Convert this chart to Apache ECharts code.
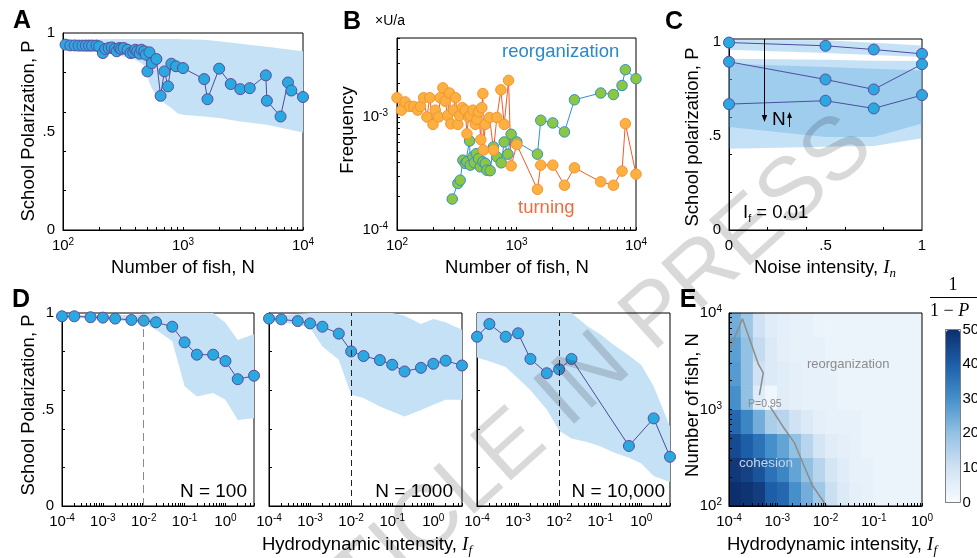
<!DOCTYPE html>
<html><head><meta charset="utf-8">
<script src="https://cdn.jsdelivr.net/npm/echarts@6/dist/echarts.min.js"></script>
<style>html,body{margin:0;padding:0;background:#fff}#c{width:977px;height:558px}</style>
</head><body><div id="c"></div>
<script>
// ---------------- DATA ----------------
// Panel A
const A_N = [105,115,125,135,145,155,165,175,190,200,215,225,240,255,270,280,295,305,320,345,365,385,400,415,435,450,475,490,505,525,550,600,650,700,750,800,875,1000,1500,1600,2000,2500,3000,3600,4900,5000,6500,7500,8000,10000];
const A_P = [0.941,0.937,0.937,0.936,0.936,0.936,0.936,0.936,0.936,0.932,0.898,0.919,0.924,0.927,0.919,0.907,0.924,0.919,0.924,0.915,0.898,0.902,0.915,0.907,0.895,0.915,0.907,0.890,0.805,0.902,0.847,0.868,0.681,0.805,0.729,0.844,0.831,0.822,0.766,0.664,0.819,0.741,0.715,0.720,0.785,0.656,0.576,0.749,0.708,0.675];
const A_bandN  = [100,200,300,400,450,480,500,520,550,600,700,800,900,1000,1500,2000,3000,5000,10000];
const A_bandHi = [0.963,0.968,0.970,0.970,0.970,0.970,0.970,0.970,0.970,0.970,0.970,0.969,0.969,0.968,0.966,0.958,0.945,0.930,0.907];
const A_bandLo = [0.915,0.902,0.885,0.864,0.847,0.831,0.805,0.754,0.720,0.686,0.644,0.619,0.593,0.585,0.576,0.568,0.551,0.534,0.495];

// Panel B
const B_turnN = [100,109,117,128,138,149,157,167,178,188,200,209,223,230,242,253,265,275,282,298,309,323,334,352,372,385,397,410,432,452,467,481,503,513,523,529,547,595,642,685,740,789,858,902,1006,1497,1596,2012,2519,3054,5070,6470,7640,8147,10000];
const B_turnF = [1.48e-3,1.15e-3,1.36e-3,1.24e-3,1.24e-3,1.15e-3,1.24e-3,1.48e-3,1.00e-3,1.48e-3,0.86e-3,1.15e-3,1.00e-3,1.48e-3,1.81e-3,1.38e-3,1.03e-3,1.63e-3,0.87e-3,1.15e-3,1.48e-3,0.86e-3,1.03e-3,1.21e-3,1.15e-3,0.71e-3,1.00e-3,1.03e-3,1.15e-3,0.86e-3,0.95e-3,1.11e-3,0.63e-3,1.21e-3,1.61e-3,0.51e-3,0.86e-3,0.99e-3,0.51e-3,0.99e-3,1.74e-3,0.86e-3,2.11e-3,0.37e-3,0.57e-3,0.229e-3,0.375e-3,0.375e-3,0.249e-3,0.355e-3,0.267e-3,0.249e-3,0.332e-3,0.873e-3,0.312e-3];
const B_reorgN = [290,323,338,356,373,385,405,410,432,443,460,481,497,523,548,565,602,642,685,745,789,847,902,1006,1497,1596,2012,2519,3054,5070,6470,7640,8147,10000];
const B_reorgF = [0.188e-3,0.258e-3,0.276e-3,0.415e-3,0.388e-3,0.401e-3,0.614e-3,0.375e-3,0.444e-3,0.393e-3,0.474e-3,0.428e-3,0.362e-3,0.401e-3,0.388e-3,0.338e-3,0.335e-3,0.543e-3,0.444e-3,0.393e-3,0.601e-3,0.469e-3,0.703e-3,0.601e-3,0.469e-3,0.935e-3,0.886e-3,0.738e-3,1.42e-3,1.63e-3,1.58e-3,1.90e-3,2.62e-3,2.18e-3];

// Panel C
const C_In = [0, 0.5, 0.75, 1];
const C_P1 = [0.996, 0.979, 0.959, 0.936];
const C_P2 = [0.894, 0.800, 0.747, 0.881];
const C_P3 = [0.669, 0.687, 0.646, 0.717];
const C_b1Hi = [1.010, 1.008, 0.995, 0.981];
const C_b1Lo = [0.958, 0.940, 0.930, 0.919];
const C_b2Hi = [0.910, 0.905, 0.900, 0.898];
const C_b2Lo = [0.547, 0.494, 0.494, 0.566];
const C_b3Hi = [0.884, 0.866, 0.857, 0.848];
const C_b3Lo = [0.432, 0.443, 0.446, 0.487];

// Panel D
const D_If  = [1e-4,2e-4,5e-4,1e-3,2e-3,5e-3,1e-2,2e-2,5e-2,0.1,0.2,0.5,1,2,5];
const D1_P  = [0.983,0.983,0.978,0.976,0.971,0.964,0.960,0.952,0.929,0.848,0.784,0.784,0.751,0.657,0.675];
const D1_hi = [0.990,0.990,0.990,0.990,0.990,0.990,0.995,1.0,1.0,1.0,1.0,1.0,0.950,0.860,0.890];
const D1_lo = [0.975,0.975,0.970,0.965,0.960,0.955,0.945,0.913,0.853,0.620,0.567,0.585,0.550,0.446,0.455];
const D2_P  = [0.971,0.967,0.958,0.946,0.929,0.893,0.801,0.777,0.756,0.732,0.697,0.716,0.737,0.753,0.728];
const D2_hi = [0.988,0.988,0.995,1.0,1.0,1.0,1.0,1.0,1.0,1.0,0.986,0.943,0.969,0.952,0.913];
const D2_lo = [0.957,0.952,0.940,0.922,0.827,0.758,0.576,0.559,0.516,0.490,0.464,0.498,0.524,0.550,0.550];
const D3_If = [1e-4,2e-4,5e-4,1e-3,2e-3,5e-3,1e-2,2e-2,0.5,2,5];
const D3_P  = [0.877,0.943,0.877,0.895,0.762,0.688,0.708,0.762,0.311,0.454,0.255];
const D3_hi = [1,1,1,1,1,1,1,1,0.93,0.89,0.84,0.78,0.73,0.62,0.41];
const D3_lo = [0.77,0.75,0.72,0.66,0.60,0.50,0.39,0.35,0.33,0.31,0.28,0.25,0.22,0.155,0.125];

// Panel E  (cells: 16 columns over log10(If) -4..0, 8 rows over log10(N) 2..4, rows listed bottom→top)
const E_colLogIf = [-3.875,-3.625,-3.375,-3.125,-2.875,-2.625,-2.375,-2.125,-1.875,-1.625,-1.375,-1.125,-0.875,-0.625,-0.375,-0.125];
const E_rowLogN  = [2.125,2.375,2.625,2.875,3.125,3.375,3.625,3.875];
const E_values = [
  [50,49,47,40,38,30,24,18,11,7,5,4,3,3,3,3],
  [48,46,42,36,32,26,20,14,9,6,4,4,3,3,3,3],
  [44,40,36,30,26,20,14,9,6,5,4,3,3,3,3,3],
  [38,32,24,16,14,10,7,5,4,4,4,3,3,3,3,3],
  [30,20,6,2,6,5,4,4,4,3,3,3,3,3,3,3],
  [28,20,10,7,6,5,4,4,4,3,3,3,3,3,3,3],
  [27,20,12,7,5,4,4,4,3,3,3,3,3,3,3,3],
  [24,18,10,6,5,4,4,3,3,3,3,3,3,3,3,3]
];
const E_c1If = [1.05e-4, 1.9e-4, 4.07e-4, 5.13e-4, 4.27e-4];
const E_c1N  = [4270, 8700, 2950, 2400, 1413];
const E_c2If = [7.1e-4, 1.41e-3, 2.24e-3, 5.25e-3, 1.05e-2];
const E_c2N  = [1070, 631, 457, 166, 100];
const CB_ticks = [0,10,20,30,40,50];

// tick labels
const P_tickVals = [0, 0.5, 1];
const P_tickText = ['0', '.5', '1'];
const P_minorTicks = [0.2, 0.4, 0.6, 0.8];
const In_tickVals = [0, 0.5, 1];
const In_tickText = ['0', '.5', '1'];
const N_tickVals = [100, 1000, 10000];
const F_tickVals = [1e-4, 1e-3];
const If_tickVals = [1e-4, 1e-3, 1e-2, 1e-1, 1];

// ---------------- STYLE ----------------
const FONT = "'Liberation Sans', Arial, Helvetica, sans-serif";
const SERIF = "'Liberation Serif', 'DejaVu Serif', serif";
const FILL = '#29a9e0', EDGE = '#5d4b9e', LINEC = '#4d4d9f', BAND = '#c5e1f5';
const CBAND = 'rgba(80,165,225,0.33)';

const SUP_RICH = {
  b: {fontSize: 15, lineHeight: 17, fontFamily: FONT, color: '#000'},
  s: {fontSize: 10, lineHeight: 10, fontFamily: FONT, color: '#000', verticalAlign: 'top'}
};
function pow10Label(v) {
  const l = Math.log10(v), e = Math.round(l);
  if (Math.abs(l - e) > 1e-6) return '';
  return '{b|10}{s|' + e + '}';
}
function logTicks(min, max) {
  const out = [];
  for (let e = Math.floor(Math.log10(min)); e <= Math.ceil(Math.log10(max)); e++) {
    for (let m = 1; m <= 9; m++) {
      const v = m * Math.pow(10, e);
      if (v >= min * 0.999 && v <= max * 1.001) out.push(v);
    }
  }
  return out;
}
function labelFor(v, vals, texts) {
  for (let i = 0; i < vals.length; i++) if (Math.abs(v - vals[i]) < 1e-9) return texts[i];
  return '';
}
function grid(l, t, w, h, extra) {
  return Object.assign({left: l, top: t, width: w, height: h, show: true, borderColor: '#000', borderWidth: 1,
    backgroundColor: 'transparent', containLabel: false, outerBoundsMode: 'none'}, extra || {});
}
function baseAxis(gi, extra) {
  return Object.assign({gridIndex: gi, splitLine: {show: false}, minorTick: {show: false},
    axisLine: {show: true, onZero: false, lineStyle: {color: '#000', width: 1}}}, extra);
}
function logAxis(gi, min, max, labelVals, showLabels, extra) {
  return baseAxis(gi, Object.assign({type: 'log', logBase: 10, min: min, max: max,
    axisTick: {show: true, inside: true, length: 3, customValues: logTicks(min, max), lineStyle: {color: '#000'}},
    axisLabel: {show: showLabels, customValues: labelVals, formatter: pow10Label, rich: SUP_RICH, margin: 7}}, extra || {}));
}
function linAxis(gi, min, max, labelVals, labelText, tickVals, showLabels, extra) {
  return baseAxis(gi, Object.assign({type: 'value', min: min, max: max,
    axisTick: {show: true, inside: true, length: 3, customValues: tickVals, lineStyle: {color: '#000'}},
    axisLabel: {show: showLabels, customValues: labelVals, formatter: function (v) { return labelFor(v, labelVals, labelText); },
      fontSize: 15, color: '#000', fontFamily: FONT, margin: 8}}, extra || {}));
}
function bandSeries(xi, xs, hi, lo, color) {
  return {type: 'custom', xAxisIndex: xi, yAxisIndex: xi, silent: true, clip: true, z: 1,
    data: xs.map(function (x, i) { return [x, hi[i], lo[i]]; }),
    encode: {x: 0, y: 1},
    renderItem: function (params, api) {
      if (params.dataIndex !== 0) return null;
      const pts = [];
      for (let i = 0; i < xs.length; i++) pts.push(api.coord([xs[i], hi[i]]));
      for (let i = xs.length - 1; i >= 0; i--) pts.push(api.coord([xs[i], lo[i]]));
      return {type: 'polygon', shape: {points: pts}, style: {fill: color}};
    }};
}
function dotLine(xi, xs, ys, fill, edge, lineColor, size, extra) {
  return Object.assign({type: 'line', xAxisIndex: xi, yAxisIndex: xi, clip: false, z: 3,
    data: xs.map(function (x, i) { return [x, ys[i]]; }),
    symbol: 'circle', symbolSize: size, showSymbol: true,
    itemStyle: {color: fill, borderColor: edge, borderWidth: 1},
    lineStyle: {color: lineColor, width: 1}, emphasis: {disabled: true}}, extra || {});
}
function dashAt(x, color, dash) {
  return {silent: true, symbol: ['none', 'none'], label: {show: false}, animation: false,
    lineStyle: {type: dash, color: color, width: 1}, emphasis: {disabled: true}, data: [{xAxis: x}]};
}

// ---------------- OPTION ----------------
const grids = [
  grid(63, 33, 240, 197),      // 0 A
  grid(397, 38, 239, 192),     // 1 B
  grid(729, 39, 193, 191),     // 2 C
  grid(62, 313, 192, 193),     // 3 D1
  grid(269, 313, 193, 193),    // 4 D2
  grid(477, 313, 193, 193),    // 5 D3
  grid(729, 313, 193, 193, {show: false}), // 6 E heat
  grid(729, 313, 193, 193, {z: 4}),        // 7 E axes
  grid(945.5, 329.5, 15, 173, {borderColor: '#808080', z: 5}) // 8 colorbar
];
const xAxes = [
  logAxis(0, 100, 10000, N_tickVals, true),
  logAxis(1, 100, 10000, N_tickVals, true),
  linAxis(2, 0, 1, In_tickVals, In_tickText, P_minorTicks, true),
  logAxis(3, 1e-4, 5, If_tickVals, true),
  logAxis(4, 1e-4, 5, If_tickVals, true),
  logAxis(5, 1e-4, 5, If_tickVals, true),
  {type: 'category', gridIndex: 6, show: false, data: E_colLogIf.map(String)},
  logAxis(7, 1e-4, 1, If_tickVals, true, {z: 4}),
  {type: 'value', gridIndex: 8, show: false, min: 0, max: 1}
];
const yAxes = [
  linAxis(0, 0, 1, P_tickVals, P_tickText, P_minorTicks, true),
  logAxis(1, 1e-4, 5e-3, F_tickVals, true, {axisLabel: {customValues: F_tickVals, formatter: pow10Label, rich: SUP_RICH, margin: 9}}),
  linAxis(2, 0, 1.015, P_tickVals, P_tickText, P_minorTicks, true),
  linAxis(3, 0, 1, P_tickVals, P_tickText, P_minorTicks, true),
  linAxis(4, 0, 1, P_tickVals, P_tickText, P_minorTicks, false),
  linAxis(5, 0, 1, P_tickVals, P_tickText, P_minorTicks, false),
  {type: 'category', gridIndex: 6, show: false, data: E_rowLogN.map(String)},
  logAxis(7, 100, 10000, N_tickVals, true, {z: 4}),
  baseAxis(8, {type: 'value', min: 0, max: 50, position: 'right', axisLine: {show: false},
    axisTick: {show: true, inside: false, length: 3, customValues: CB_ticks, lineStyle: {color: '#555'}},
    axisLabel: {show: true, customValues: CB_ticks, fontSize: 15, color: '#000', margin: 2, fontFamily: FONT}})
];

const heatData = [];
E_values.forEach(function (row, j) { row.forEach(function (v, i) { heatData.push([i, j, v]); }); });

const series = [];
// A
series.push(bandSeries(0, A_bandN, A_bandHi, A_bandLo, BAND));
series.push(dotLine(0, A_N, A_P, FILL, EDGE, LINEC, 11));
// B
series.push(dotLine(1, B_reorgN, B_reorgF, '#8dc63f', '#2f8fd0', '#2f8fd0', 10.5));
series.push(dotLine(1, B_turnN, B_turnF, '#fbb040', '#f39433', '#f05a28', 10.5));
// C
series.push(bandSeries(2, C_In, C_b1Hi, C_b1Lo, CBAND));
series.push(bandSeries(2, C_In, C_b2Hi, C_b2Lo, CBAND));
series.push(bandSeries(2, C_In, C_b3Hi, C_b3Lo, CBAND));
series.push(dotLine(2, C_In, C_P1, FILL, EDGE, LINEC, 11));
series.push(dotLine(2, C_In, C_P2, FILL, EDGE, LINEC, 11));
series.push(dotLine(2, C_In, C_P3, FILL, EDGE, LINEC, 11));
// D
series.push(bandSeries(3, D_If, D1_hi, D1_lo, BAND));
series.push(dotLine(3, D_If, D1_P, FILL, EDGE, LINEC, 11, {markLine: dashAt(0.01, '#8a8a8a', [8, 5])}));
series.push(bandSeries(4, D_If, D2_hi, D2_lo, BAND));
series.push(dotLine(4, D_If, D2_P, FILL, EDGE, LINEC, 11, {markLine: dashAt(0.01, '#222', [6, 4])}));
series.push(bandSeries(5, D_If, D3_hi, D3_lo, BAND));
series.push(dotLine(5, D3_If, D3_P, FILL, EDGE, LINEC, 11, {markLine: dashAt(0.01, '#222', [6, 4])}));
// E
const heatIndex = series.length;
series.push({type: 'heatmap', xAxisIndex: 6, yAxisIndex: 6, data: heatData, itemStyle: {borderWidth: 0},
  emphasis: {disabled: true}, progressive: 0, z: 1});
series.push({type: 'line', xAxisIndex: 7, yAxisIndex: 7, symbol: 'none', z: 3, clip: true,
  data: E_c1If.map(function (x, i) { return [x, E_c1N[i]]; }), lineStyle: {color: '#8c8c8c', width: 1.5}});
series.push({type: 'line', xAxisIndex: 7, yAxisIndex: 7, symbol: 'none', z: 3, clip: true,
  data: E_c2If.map(function (x, i) { return [x, E_c2N[i]]; }), lineStyle: {color: '#8c8c8c', width: 1.5}});

// --------------- GRAPHIC TEXT ---------------
function txt(x, y, text, o) {
  o = o || {};
  return {type: 'text', x: x, y: y, rotation: o.rot || 0, silent: true, z: o.z || 20,
    style: Object.assign({text: text, fill: '#000', fontSize: 18.5, fontFamily: FONT,
      align: o.align || 'center', verticalAlign: 'middle', textAlign: o.align || 'center', textVerticalAlign: 'middle'}, o.style || {})};
}
const R90 = Math.PI / 2;
const titleRich = {
  t: {fontSize: 18.5, fontFamily: FONT, lineHeight: 24, color: '#000'},
  i: {fontSize: 19, fontFamily: SERIF, fontStyle: 'italic', lineHeight: 24, color: '#000'},
  sb: {fontSize: 13, fontFamily: SERIF, fontStyle: 'italic', lineHeight: 14, verticalAlign: 'bottom', color: '#000'}
};
const elements = [
  // panel letters
  txt(22, 21, 'A', {style: {fontSize: 25, fontWeight: 'bold'}}),
  txt(352, 22, 'B', {style: {fontSize: 25, fontWeight: 'bold'}}),
  txt(674, 22, 'C', {style: {fontSize: 25, fontWeight: 'bold'}}),
  txt(21, 300, 'D', {style: {fontSize: 25, fontWeight: 'bold'}}),
  txt(688, 300, 'E', {style: {fontSize: 25, fontWeight: 'bold'}}),
  // axis titles
  txt(29, 131, 'School Polarization, P', {rot: R90}),
  txt(183, 268, 'Number of fish, N'),
  txt(348, 130, 'Frequency', {rot: R90}),
  txt(517, 268, 'Number of fish, N'),
  txt(693, 137, 'School polarization, P', {rot: R90}),
  txt(825, 268, '{t|Noise intensity, }{i|I}{sb|n}', {style: {rich: titleRich}}),
  txt(29, 405, 'School Polarization, P', {rot: R90}),
  txt(367, 545, '{t|Hydrodynamic intensity, }{i|I}{sb|f}', {style: {rich: titleRich}}),
  txt(693, 405, 'Number of fish, N', {rot: R90}),
  txt(832, 545, '{t|Hydrodynamic intensity, }{i|I}{sb|f}', {style: {rich: titleRich}}),
  // B annotations
  txt(375, 21, '×U/a', {align: 'left', style: {fontSize: 14}}),
  txt(502, 52, 'reorganization', {align: 'left', style: {fill: '#2b87c8'}}),
  txt(518, 208, 'turning', {align: 'left', style: {fill: '#f26b3d'}}),
  // C annotations
  {type: 'line', silent: true, z: 20, shape: {x1: 764.5, y1: 39, x2: 764.5, y2: 117}, style: {stroke: '#000', lineWidth: 1}},
  {type: 'polygon', silent: true, z: 20, shape: {points: [[761.8, 115], [767.2, 115], [764.5, 122]]}, style: {fill: '#000'}},
  txt(772, 120, 'N', {align: 'left', style: {fontSize: 19}}),
  {type: 'line', silent: true, z: 20, shape: {x1: 789.5, y1: 127, x2: 789.5, y2: 117}, style: {stroke: '#000', lineWidth: 1}},
  {type: 'polygon', silent: true, z: 20, shape: {points: [[787, 118], [792, 118], [789.5, 112]]}, style: {fill: '#000'}},
  txt(743, 213, '{a|I}{s|f}{a| = 0.01}', {align: 'left', style: {rich: {
    a: {fontSize: 18.5, fontFamily: FONT, lineHeight: 22, color: '#000'},
    s: {fontSize: 11, fontFamily: FONT, lineHeight: 11, verticalAlign: 'bottom', color: '#000'}}}}),
  // D annotations
  txt(247, 492, 'N = 100', {align: 'right', style: {fontSize: 19}}),
  txt(453, 492, 'N = 1000', {align: 'right', style: {fontSize: 19}}),
  txt(665, 492, 'N = 10,000', {align: 'right', style: {fontSize: 19}}),
  // E annotations
  txt(807, 364, 'reorganization', {align: 'left', style: {fontSize: 13, fill: '#8c8c8c'}}),
  txt(748, 404, 'P=0.95', {align: 'left', style: {fontSize: 10.5, fill: '#8a8a8a'}}),
  txt(739, 463, 'cohesion', {align: 'left', style: {fontSize: 13.5, fill: '#c6d7ea'}}),
  // colorbar label 1/(1-P)
  txt(953, 285, '1', {style: {fontFamily: SERIF, fontSize: 18}}),
  {type: 'line', silent: true, z: 20, shape: {x1: 930, y1: 297.5, x2: 977, y2: 297.5}, style: {stroke: '#000', lineWidth: 1}},
  txt(930, 311, '{n|1 − }{i|P}', {align: 'left', style: {rich: {
    n: {fontSize: 18, fontFamily: SERIF, color: '#000'},
    i: {fontSize: 18, fontFamily: SERIF, fontStyle: 'italic', color: '#000'}}}}),
  // watermark (on top, translucent)
  {type: 'text', x: 255, y: 678, rotation: 42 * Math.PI / 180, silent: true, z: 50,
    style: {text: 'ARTICLE IN PRESS', fontSize: 89, fontFamily: FONT, fill: 'rgba(0,0,0,0.15)', align: 'left', verticalAlign: 'middle', textAlign: 'left', textVerticalAlign: 'middle'}}
];

const option = {
  animation: false,
  textStyle: {fontFamily: FONT, color: '#000'},
  grid: grids,
  xAxis: xAxes,
  yAxis: yAxes,
  visualMap: [{
    type: 'continuous', seriesIndex: heatIndex, dimension: 2, min: 0, max: 50,
    inRange: {color: ['#f7fbff', '#d0e2f3', '#93c1e3', '#4590cb', '#1d5ea8', '#0e2f6e']},
    left: 946, top: 330, itemWidth: 14, itemHeight: 172, padding: 0,
    calculable: false, text: null, hoverLink: false, orient: 'vertical'
  }],
  series: series,
  graphic: {elements: elements}
};
const chart = echarts.init(document.getElementById('c'), null, {renderer: 'canvas'});
chart.setOption(option);
</script>
</body></html>
